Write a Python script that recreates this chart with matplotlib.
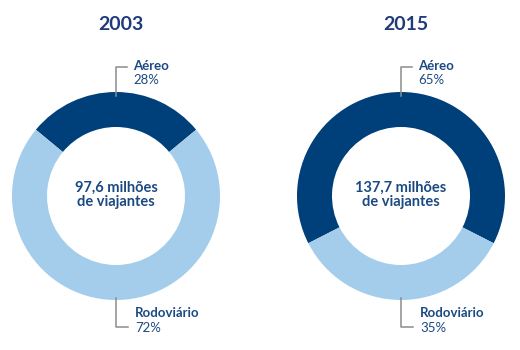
import matplotlib
matplotlib.use("Agg")
import matplotlib.pyplot as plt

years = ["2003", "2015"]
categories = ["Aéreo", "Rodoviário"]
shares = [[28, 72], [65, 35]]
totals = ["97,6 milhões\nde viajantes", "137,7 milhões\nde viajantes"]

DARK = "#00407a"
LIGHT = "#a3cdea"
TEXT = "#1b4a82"
TITLE = "#1f3b7c"
LINE = "#8c8c8c"

plt.rcParams['font.family'] = ['Lato', 'DejaVu Sans']

fig = plt.figure(figsize=(5.2, 3.5), dpi=100)
ax = fig.add_axes([0, 0, 1, 1])
ax.set_xlim(0, 520)
ax.set_ylim(0, 350)
ax.set_aspect('equal')
ax.axis('off')

centers_x = [116, 401]
cy = 350 - 196
R = 104
W = 35

for i, yr in enumerate(years):
    cx = centers_x[i]
    a = shares[i][0]
    start = 90 + a * 360 / 100 / 2
    ax.pie(shares[i], colors=[DARK, LIGHT], startangle=start, counterclock=False,
           radius=R, center=(cx, cy), wedgeprops=dict(width=W, linewidth=0),
           frame=True)
    ax.text(cx + 5, 350 - 25, yr, ha='center', va='center', fontsize=14,
            fontweight='bold', color=TITLE)
    ax.text(cx, cy + 1, totals[i], ha='center', va='center', fontsize=10.5,
            fontweight='bold', color=TEXT, linespacing=1.0)
    # top leader
    ax.plot([cx, cx, cx + 11], [cy + R - 4, 350 - 67, 350 - 67], color=LINE, lw=1.1)
    ax.text(cx + 17, 350 - 66, categories[0], ha='left', va='center', fontsize=9.5,
            fontweight='bold', color=TEXT)
    ax.text(cx + 17, 350 - 80, f"{shares[i][0]}%", ha='left', va='center',
            fontsize=9.5, color=TEXT)
    # bottom leader
    ax.plot([cx, cx, cx + 12], [cy - R + 2, 350 - 327, 350 - 327], color=LINE, lw=1.1)
    ax.text(cx + 19, 350 - 313, categories[1], ha='left', va='center', fontsize=9.5,
            fontweight='bold', color=TEXT)
    ax.text(cx + 19, 350 - 328, f"{shares[i][1]}%", ha='left', va='center',
            fontsize=9.5, color=TEXT)

ax.set_xlim(0, 520)
ax.set_ylim(0, 350)
ax.axis('off')
fig.savefig("out.png", dpi=100)
